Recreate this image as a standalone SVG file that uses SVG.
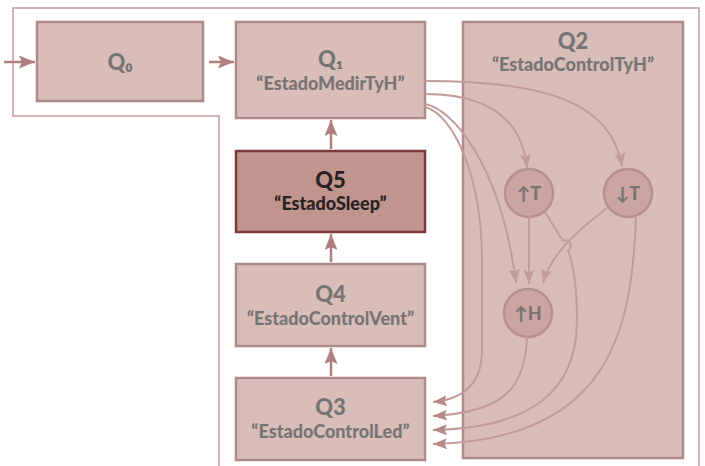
<svg xmlns="http://www.w3.org/2000/svg" width="705" height="466" viewBox="0 0 705 466">
<style>
.box{fill:#d8bdb8;stroke:#b08a8a;stroke-width:2.5}
.sleep{fill:#c0958d;stroke:#7c3a3a;stroke-width:2.5}
.circ{fill:#cba5a1;stroke:#b88f8c;stroke-width:2.5}
.t{font-family:Lato,"Liberation Sans",sans-serif;font-weight:900;fill:#787474;text-anchor:middle}
.big{font-size:22px}
.sm{font-size:18px}
.ct{font-size:18px}
.dark{fill:#2a2222}
.main{fill:none;stroke:#b07f7f;stroke-width:2.5}
.con{fill:none;stroke:#c29c98;stroke-width:2}
.frame{fill:none;stroke:#c39a9a;stroke-width:1.5}
</style>
<defs>
<marker id="am" markerWidth="17" markerHeight="13" refX="16" refY="6.5" orient="auto" markerUnits="userSpaceOnUse">
<path d="M0,0 L16,6.5 L0,13 L3,6.5 Z" fill="#b07f7f"/>
</marker>
<marker id="ac" markerWidth="15" markerHeight="11" refX="14" refY="5.5" orient="auto" markerUnits="userSpaceOnUse">
<path d="M0,0 L14,5.5 L0,11 L2.5,5.5 Z" fill="#c29c98"/>
</marker>
<marker id="aq" markerWidth="15" markerHeight="11" refX="14" refY="5.5" orient="auto" markerUnits="userSpaceOnUse">
<path d="M0,0 L14,5.5 L0,11 L2.5,5.5 Z" fill="#b58a88"/>
</marker>
</defs>
<path class="frame" d="M219,466 L219,116 L13,116 L13,8 L699,8 L699,466"/>
<g id="Q2">
<rect class="box" x="463" y="22" width="220" height="436"/>
<text class="t big" x="573" y="49">Q2</text>
<text class="t sm" x="573" y="71">“EstadoControlTyH”</text>
</g>
<g id="Q0">
<rect class="box" x="37" y="22" width="166" height="79"/>
<text class="t big" x="120" y="70">Q₀</text>
</g>
<g id="Q1">
<rect class="box" x="236" y="22" width="189" height="96"/>
<text class="t big" x="330.5" y="67">Q₁</text>
<text class="t sm" x="330.5" y="90">“EstadoMedirTyH”</text>
</g>
<g id="Q5">
<rect class="sleep" x="236" y="151" width="189" height="81"/>
<text class="t big dark" x="330.5" y="188">Q5</text>
<text class="t sm dark" x="330.5" y="210">“EstadoSleep”</text>
</g>
<g id="Q4">
<rect class="box" x="236" y="264" width="189" height="82"/>
<text class="t big" x="330.5" y="302">Q4</text>
<text class="t sm" x="330.5" y="325">“EstadoControlVent”</text>
</g>
<g id="Q3">
<rect class="box" x="236" y="378" width="189" height="82"/>
<text class="t big" x="330.5" y="415">Q3</text>
<text class="t sm" x="330.5" y="438">“EstadoControlLed”</text>
</g>
<g id="upT">
<circle class="circ" cx="529" cy="193" r="24"/>
<text class="t ct" x="529" y="200">↑T</text>
</g>
<g id="downT">
<circle class="circ" cx="628" cy="193" r="24"/>
<text class="t ct" x="628" y="200">↓T</text>
</g>
<g id="upH">
<circle class="circ" cx="528" cy="313" r="24"/>
<text class="t ct" x="528" y="320">↑H</text>
</g>
<g id="connectors">
<path class="main" d="M4,62 L35,62" marker-end="url(#am)"/>
<path class="main" d="M209,62 L234,62" marker-end="url(#am)"/>
<path class="main" d="M331,376 L331,348" marker-end="url(#am)"/>
<path class="main" d="M331,262 L331,234" marker-end="url(#am)"/>
<path class="main" d="M331,149 L331,120" marker-end="url(#am)"/>
<path class="con" d="M425,81 C540,81 612,100 622,167" marker-end="url(#ac)"/>
<path class="con" d="M425,94 C490,94 522,120 527,168" marker-end="url(#ac)"/>
<path class="con" d="M425,104 C450,108 500,160 516,283" marker-end="url(#ac)"/>
<path class="con" d="M529,217 L529,284" marker-end="url(#ac)"/>
<path class="con" d="M607,208 C585,225 552,250 543,283" marker-end="url(#ac)"/>
<path class="con" d="M425,107 C455,115 482,180 482,260 L482,350 C482,382 465,399 433,402" marker-end="url(#aq)"/>
<path class="con" d="M527,337 C525,392 500,412 433,416" marker-end="url(#aq)"/>
<path class="con" d="M545,212 L563,241 A5,5 0 0 1 568,250 Q577,275 577,320 C577,392 530,428 433,430" marker-end="url(#aq)"/>
<path class="con" d="M636,217 C632,330 610,440 433,444" marker-end="url(#aq)"/>
</g>
</svg>
